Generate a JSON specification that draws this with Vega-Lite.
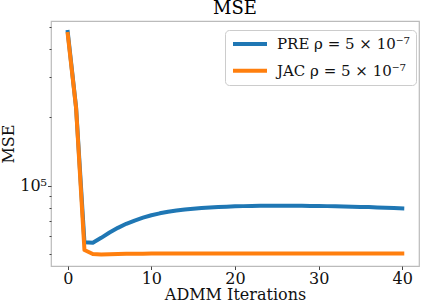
{
  "$schema": "https://vega.github.io/schema/vega-lite/v6.json",
  "autosize": {"type": "none"},
  "padding": {"left": 51, "top": 21, "right": 4, "bottom": 39},
  "width": 368,
  "height": 245,
  "title": {"text": "MSE", "font": "DejaVu Serif", "fontSize": 18, "fontWeight": "normal", "color": "#000000", "offset": 1, "anchor": "middle"},
  "config": {
    "view": {"stroke": "#bbbbbb", "strokeWidth": 1.2},
    "axis": {"grid": false, "domainColor": "#bbbbbb", "domainWidth": 1.2, "tickColor": "#444444", "labelFont": "DejaVu Serif", "titleFont": "DejaVu Serif", "labelFontSize": 16, "titleFontSize": 16, "titleFontWeight": "normal", "labelColor": "#111111", "titleColor": "#111111"}
  },
  "data": {"values": [
    {"iter": 0, "mse": 475500, "method": "PRE ρ = 5 × 10⁻⁷"},
    {"iter": 1, "mse": 221000, "method": "PRE ρ = 5 × 10⁻⁷"},
    {"iter": 2, "mse": 56330, "method": "PRE ρ = 5 × 10⁻⁷"},
    {"iter": 3, "mse": 56100, "method": "PRE ρ = 5 × 10⁻⁷"},
    {"iter": 4, "mse": 58950, "method": "PRE ρ = 5 × 10⁻⁷"},
    {"iter": 5, "mse": 62200, "method": "PRE ρ = 5 × 10⁻⁷"},
    {"iter": 6, "mse": 65230, "method": "PRE ρ = 5 × 10⁻⁷"},
    {"iter": 7, "mse": 67950, "method": "PRE ρ = 5 × 10⁻⁷"},
    {"iter": 8, "mse": 70250, "method": "PRE ρ = 5 × 10⁻⁷"},
    {"iter": 9, "mse": 72350, "method": "PRE ρ = 5 × 10⁻⁷"},
    {"iter": 10, "mse": 74130, "method": "PRE ρ = 5 × 10⁻⁷"},
    {"iter": 11, "mse": 75580, "method": "PRE ρ = 5 × 10⁻⁷"},
    {"iter": 12, "mse": 76820, "method": "PRE ρ = 5 × 10⁻⁷"},
    {"iter": 13, "mse": 77750, "method": "PRE ρ = 5 × 10⁻⁷"},
    {"iter": 14, "mse": 78560, "method": "PRE ρ = 5 × 10⁻⁷"},
    {"iter": 15, "mse": 79190, "method": "PRE ρ = 5 × 10⁻⁷"},
    {"iter": 16, "mse": 79760, "method": "PRE ρ = 5 × 10⁻⁷"},
    {"iter": 17, "mse": 80170, "method": "PRE ρ = 5 × 10⁻⁷"},
    {"iter": 18, "mse": 80570, "method": "PRE ρ = 5 × 10⁻⁷"},
    {"iter": 19, "mse": 80890, "method": "PRE ρ = 5 × 10⁻⁷"},
    {"iter": 20, "mse": 81150, "method": "PRE ρ = 5 × 10⁻⁷"},
    {"iter": 21, "mse": 81310, "method": "PRE ρ = 5 × 10⁻⁷"},
    {"iter": 22, "mse": 81480, "method": "PRE ρ = 5 × 10⁻⁷"},
    {"iter": 23, "mse": 81560, "method": "PRE ρ = 5 × 10⁻⁷"},
    {"iter": 24, "mse": 81650, "method": "PRE ρ = 5 × 10⁻⁷"},
    {"iter": 25, "mse": 81720, "method": "PRE ρ = 5 × 10⁻⁷"},
    {"iter": 26, "mse": 81720, "method": "PRE ρ = 5 × 10⁻⁷"},
    {"iter": 27, "mse": 81650, "method": "PRE ρ = 5 × 10⁻⁷"},
    {"iter": 28, "mse": 81560, "method": "PRE ρ = 5 × 10⁻⁷"},
    {"iter": 29, "mse": 81480, "method": "PRE ρ = 5 × 10⁻⁷"},
    {"iter": 30, "mse": 81400, "method": "PRE ρ = 5 × 10⁻⁷"},
    {"iter": 31, "mse": 81310, "method": "PRE ρ = 5 × 10⁻⁷"},
    {"iter": 32, "mse": 81150, "method": "PRE ρ = 5 × 10⁻⁷"},
    {"iter": 33, "mse": 80980, "method": "PRE ρ = 5 × 10⁻⁷"},
    {"iter": 34, "mse": 80810, "method": "PRE ρ = 5 × 10⁻⁷"},
    {"iter": 35, "mse": 80650, "method": "PRE ρ = 5 × 10⁻⁷"},
    {"iter": 36, "mse": 80490, "method": "PRE ρ = 5 × 10⁻⁷"},
    {"iter": 37, "mse": 80240, "method": "PRE ρ = 5 × 10⁻⁷"},
    {"iter": 38, "mse": 80000, "method": "PRE ρ = 5 × 10⁻⁷"},
    {"iter": 39, "mse": 79760, "method": "PRE ρ = 5 × 10⁻⁷"},
    {"iter": 40, "mse": 79520, "method": "PRE ρ = 5 × 10⁻⁷"},
    {"iter": 0, "mse": 466000, "method": "JAC ρ = 5 × 10⁻⁷"},
    {"iter": 1, "mse": 219900, "method": "JAC ρ = 5 × 10⁻⁷"},
    {"iter": 2, "mse": 52080, "method": "JAC ρ = 5 × 10⁻⁷"},
    {"iter": 3, "mse": 50030, "method": "JAC ρ = 5 × 10⁻⁷"},
    {"iter": 4, "mse": 49780, "method": "JAC ρ = 5 × 10⁻⁷"},
    {"iter": 5, "mse": 49950, "method": "JAC ρ = 5 × 10⁻⁷"},
    {"iter": 6, "mse": 50030, "method": "JAC ρ = 5 × 10⁻⁷"},
    {"iter": 7, "mse": 50100, "method": "JAC ρ = 5 × 10⁻⁷"},
    {"iter": 8, "mse": 50150, "method": "JAC ρ = 5 × 10⁻⁷"},
    {"iter": 9, "mse": 50200, "method": "JAC ρ = 5 × 10⁻⁷"},
    {"iter": 10, "mse": 50250, "method": "JAC ρ = 5 × 10⁻⁷"},
    {"iter": 11, "mse": 50250, "method": "JAC ρ = 5 × 10⁻⁷"},
    {"iter": 12, "mse": 50260, "method": "JAC ρ = 5 × 10⁻⁷"},
    {"iter": 13, "mse": 50270, "method": "JAC ρ = 5 × 10⁻⁷"},
    {"iter": 14, "mse": 50280, "method": "JAC ρ = 5 × 10⁻⁷"},
    {"iter": 15, "mse": 50290, "method": "JAC ρ = 5 × 10⁻⁷"},
    {"iter": 16, "mse": 50290, "method": "JAC ρ = 5 × 10⁻⁷"},
    {"iter": 17, "mse": 50290, "method": "JAC ρ = 5 × 10⁻⁷"},
    {"iter": 18, "mse": 50290, "method": "JAC ρ = 5 × 10⁻⁷"},
    {"iter": 19, "mse": 50290, "method": "JAC ρ = 5 × 10⁻⁷"},
    {"iter": 20, "mse": 50290, "method": "JAC ρ = 5 × 10⁻⁷"},
    {"iter": 21, "mse": 50290, "method": "JAC ρ = 5 × 10⁻⁷"},
    {"iter": 22, "mse": 50290, "method": "JAC ρ = 5 × 10⁻⁷"},
    {"iter": 23, "mse": 50290, "method": "JAC ρ = 5 × 10⁻⁷"},
    {"iter": 24, "mse": 50290, "method": "JAC ρ = 5 × 10⁻⁷"},
    {"iter": 25, "mse": 50290, "method": "JAC ρ = 5 × 10⁻⁷"},
    {"iter": 26, "mse": 50290, "method": "JAC ρ = 5 × 10⁻⁷"},
    {"iter": 27, "mse": 50290, "method": "JAC ρ = 5 × 10⁻⁷"},
    {"iter": 28, "mse": 50290, "method": "JAC ρ = 5 × 10⁻⁷"},
    {"iter": 29, "mse": 50290, "method": "JAC ρ = 5 × 10⁻⁷"},
    {"iter": 30, "mse": 50290, "method": "JAC ρ = 5 × 10⁻⁷"},
    {"iter": 31, "mse": 50290, "method": "JAC ρ = 5 × 10⁻⁷"},
    {"iter": 32, "mse": 50290, "method": "JAC ρ = 5 × 10⁻⁷"},
    {"iter": 33, "mse": 50290, "method": "JAC ρ = 5 × 10⁻⁷"},
    {"iter": 34, "mse": 50290, "method": "JAC ρ = 5 × 10⁻⁷"},
    {"iter": 35, "mse": 50290, "method": "JAC ρ = 5 × 10⁻⁷"},
    {"iter": 36, "mse": 50290, "method": "JAC ρ = 5 × 10⁻⁷"},
    {"iter": 37, "mse": 50290, "method": "JAC ρ = 5 × 10⁻⁷"},
    {"iter": 38, "mse": 50290, "method": "JAC ρ = 5 × 10⁻⁷"},
    {"iter": 39, "mse": 50290, "method": "JAC ρ = 5 × 10⁻⁷"},
    {"iter": 40, "mse": 50290, "method": "JAC ρ = 5 × 10⁻⁷"}
  ]},
  "mark": {"type": "line", "strokeWidth": 4, "strokeCap": "square", "strokeJoin": "round"},
  "encoding": {
    "x": {"field": "iter", "type": "quantitative", "scale": {"domain": [-2, 42], "nice": false, "zero": false},
      "axis": {"values": [0, 10, 20, 30, 40], "title": "ADMM Iterations", "tickSize": 3.5, "labelPadding": 0.5, "titlePadding": 0, "domain": false}},
    "y": {"field": "mse", "type": "quantitative", "scale": {"type": "log", "domain": [44300, 531600], "nice": false, "zero": false},
      "axis": {"values": [50000, 60000, 70000, 80000, 90000, 100000, 200000, 300000, 400000, 500000], "labelExpr": "datum.value == 100000 ? '10⁵' : ''", "labelOverlap": false, "title": "MSE", "tickSize": {"condition": {"test": "datum.value == 100000", "value": 3.5}, "value": 2}, "labelPadding": 1, "titlePadding": 3, "domain": false}},
    "color": {"field": "method", "type": "nominal", "sort": null,
      "scale": {"domain": ["PRE ρ = 5 × 10⁻⁷", "JAC ρ = 5 × 10⁻⁷"], "range": ["#1f77b4", "#ff7f0e"]},
      "legend": {"title": null, "orient": "none", "legendX": 174, "legendY": 9, "symbolType": "stroke", "symbolSize": 1156, "symbolStrokeWidth": 4, "labelOffset": 8, "labelFont": "DejaVu Serif", "labelFontSize": 15, "labelColor": "#111111", "padding": 6, "rowPadding": 10.7, "clipHeight": 16, "strokeColor": "#cccccc", "fillColor": "white", "cornerRadius": 4}}
  }
}
